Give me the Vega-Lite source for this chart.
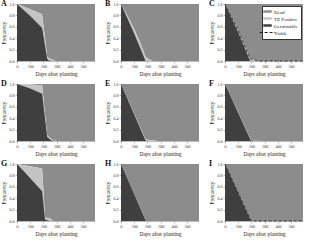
{
  "$schema": "https://vega.github.io/schema/vega-lite/v6.json",
  "background": "white",
  "padding": {"left": 1, "top": 0, "right": 1, "bottom": 1},
  "columns": 3,
  "spacing": {"row": 3, "column": 10},
  "resolve": {"scale": {"color": "independent"}, "legend": {"color": "independent"}},
  "data": {"values": [
    {"p":"A","d":0,"Germinable":1,"Viable":1},
    {"p":"A","d":100,"Germinable":0.79,"Viable":0.91},
    {"p":"A","d":190,"Germinable":0.58,"Viable":0.82},
    {"p":"A","d":228,"Germinable":0.04,"Viable":0.08},
    {"p":"A","d":240,"Germinable":0.01,"Viable":0.05},
    {"p":"A","d":270,"Germinable":0,"Viable":0.02},
    {"p":"A","d":290,"Germinable":0,"Viable":0},
    {"p":"A","d":590,"Germinable":0,"Viable":0},
    {"p":"B","d":0,"Germinable":1,"Viable":1},
    {"p":"B","d":50,"Germinable":0.74,"Viable":0.79},
    {"p":"B","d":100,"Germinable":0.48,"Viable":0.56},
    {"p":"B","d":150,"Germinable":0.2,"Viable":0.3},
    {"p":"B","d":185,"Germinable":0,"Viable":0.08},
    {"p":"B","d":210,"Germinable":0,"Viable":0.03},
    {"p":"B","d":240,"Germinable":0,"Viable":0},
    {"p":"B","d":590,"Germinable":0,"Viable":0},
    {"p":"C","d":0,"Germinable":1,"Viable":1},
    {"p":"C","d":100,"Germinable":0.5,"Viable":0.53},
    {"p":"C","d":190,"Germinable":0,"Viable":0.04},
    {"p":"C","d":220,"Germinable":0,"Viable":0.02},
    {"p":"C","d":255,"Germinable":0,"Viable":0},
    {"p":"C","d":590,"Germinable":0,"Viable":0},
    {"p":"D","d":0,"Germinable":1,"Viable":1},
    {"p":"D","d":100,"Germinable":0.92,"Viable":0.99},
    {"p":"D","d":190,"Germinable":0.83,"Viable":0.98},
    {"p":"D","d":228,"Germinable":0.07,"Viable":0.1},
    {"p":"D","d":260,"Germinable":0.01,"Viable":0.03},
    {"p":"D","d":300,"Germinable":0,"Viable":0},
    {"p":"D","d":590,"Germinable":0,"Viable":0},
    {"p":"E","d":0,"Germinable":1,"Viable":1},
    {"p":"E","d":185,"Germinable":0.01,"Viable":0.03},
    {"p":"E","d":200,"Germinable":0,"Viable":0.02},
    {"p":"E","d":280,"Germinable":0,"Viable":0},
    {"p":"E","d":590,"Germinable":0,"Viable":0},
    {"p":"F","d":0,"Germinable":1,"Viable":1},
    {"p":"F","d":195,"Germinable":0.01,"Viable":0.02},
    {"p":"F","d":260,"Germinable":0,"Viable":0},
    {"p":"F","d":590,"Germinable":0,"Viable":0},
    {"p":"G","d":0,"Germinable":1,"Viable":1},
    {"p":"G","d":100,"Germinable":0.75,"Viable":0.96},
    {"p":"G","d":190,"Germinable":0.52,"Viable":0.92},
    {"p":"G","d":212,"Germinable":0.02,"Viable":0.06},
    {"p":"G","d":250,"Germinable":0,"Viable":0.05},
    {"p":"G","d":270,"Germinable":0,"Viable":0},
    {"p":"G","d":590,"Germinable":0,"Viable":0},
    {"p":"H","d":0,"Germinable":1,"Viable":1},
    {"p":"H","d":188,"Germinable":0,"Viable":0},
    {"p":"H","d":590,"Germinable":0,"Viable":0},
    {"p":"I","d":0,"Germinable":1,"Viable":1},
    {"p":"I","d":195,"Germinable":0.01,"Viable":0.01},
    {"p":"I","d":220,"Germinable":0,"Viable":0},
    {"p":"I","d":590,"Germinable":0,"Viable":0}
  ]},
  "concat": [
    {"title": {"text": "A"}, "transform": [{"filter": "datum.p === 'A'"}],
     "encoding": {"x": {"field": "d", "type": "quantitative", "scale": {"domain": [0, 590], "nice": false}, "axis": {"values": [0,100,200,300,400,500], "labelOverlap": false, "title": "Days after planting"}}},
     "layer": [
      {"mark": "area", "encoding": {"y": {"field": "Viable", "type": "quantitative", "scale": {"domain": [0, 1]}, "axis": {"values": [0,0.2,0.4,0.6,0.8,1], "format": ".1f", "labelOverlap": false, "title": "Frequency"}}, "y2": {"datum": 1}, "color": {"datum": "Dead", "scale": {"domain": ["Dead", "TZ Positive", "Germinable", "Viable"], "range": ["#8c8c8c", "#c4c4c4", "#3f3f3f", "#222222"]}, "legend": null}}},
      {"mark": "area", "encoding": {"y": {"field": "Viable", "type": "quantitative", "scale": {"domain": [0, 1]}, "axis": {"values": [0,0.2,0.4,0.6,0.8,1], "format": ".1f", "labelOverlap": false, "title": "Frequency"}}, "color": {"datum": "TZ Positive"}}},
      {"mark": "area", "encoding": {"y": {"field": "Germinable", "type": "quantitative", "scale": {"domain": [0, 1]}, "axis": {"values": [0,0.2,0.4,0.6,0.8,1], "format": ".1f", "labelOverlap": false, "title": "Frequency"}}, "color": {"datum": "Germinable"}}}
    ]},
    {"title": {"text": "B"}, "transform": [{"filter": "datum.p === 'B'"}],
     "encoding": {"x": {"field": "d", "type": "quantitative", "scale": {"domain": [0, 590], "nice": false}, "axis": {"values": [0,100,200,300,400,500], "labelOverlap": false, "title": "Days after planting"}}},
     "layer": [
      {"mark": "area", "encoding": {"y": {"field": "Viable", "type": "quantitative", "scale": {"domain": [0, 1]}, "axis": {"values": [0,0.2,0.4,0.6,0.8,1], "format": ".1f", "labelOverlap": false, "title": "Frequency"}}, "y2": {"datum": 1}, "color": {"datum": "Dead", "scale": {"domain": ["Dead", "TZ Positive", "Germinable", "Viable"], "range": ["#8c8c8c", "#c4c4c4", "#3f3f3f", "#222222"]}, "legend": null}}},
      {"mark": "area", "encoding": {"y": {"field": "Viable", "type": "quantitative", "scale": {"domain": [0, 1]}, "axis": {"values": [0,0.2,0.4,0.6,0.8,1], "format": ".1f", "labelOverlap": false, "title": "Frequency"}}, "color": {"datum": "TZ Positive"}}},
      {"mark": "area", "encoding": {"y": {"field": "Germinable", "type": "quantitative", "scale": {"domain": [0, 1]}, "axis": {"values": [0,0.2,0.4,0.6,0.8,1], "format": ".1f", "labelOverlap": false, "title": "Frequency"}}, "color": {"datum": "Germinable"}}}
    ]},
    {"title": {"text": "C"}, "transform": [{"filter": "datum.p === 'C'"}],
     "encoding": {"x": {"field": "d", "type": "quantitative", "scale": {"domain": [0, 590], "nice": false}, "axis": {"values": [0,100,200,300,400,500], "labelOverlap": false, "title": "Days after planting"}}},
     "layer": [
      {"mark": "area", "encoding": {"y": {"field": "Viable", "type": "quantitative", "scale": {"domain": [0, 1]}, "axis": {"values": [0,0.2,0.4,0.6,0.8,1], "format": ".1f", "labelOverlap": false, "title": "Frequency"}}, "y2": {"datum": 1}, "color": {"datum": "Dead", "scale": {"domain": ["Dead", "TZ Positive", "Germinable", "Viable"], "range": ["#8c8c8c", "#c4c4c4", "#3f3f3f", "#222222"]},
        "legend": {"orient": "top-right", "offset": 2, "title": null, "values": ["Dead", "TZ Positive", "Germinable", "Viable"], "fillColor": "white", "strokeColor": "#333333", "padding": 3, "rowPadding": 1, "labelFont": "Liberation Serif", "labelFontSize": 5, "labelColor": "#222222", "labelOffset": 4, "symbolSize": 250,
          "encode": {"symbols": {"update": {
            "shape": {"signal": "datum.value === 'Viable' ? 'stroke' : 'M-0.5,-0.13H0.5V0.13H-0.5Z'"},
            "size": {"value": 250},
            "fill": {"signal": "datum.value === 'Dead' ? '#8c8c8c' : datum.value === 'TZ Positive' ? '#c4c4c4' : datum.value === 'Germinable' ? '#3f3f3f' : 'transparent'"},
            "stroke": {"signal": "datum.value === 'Viable' ? '#222222' : '#555555'"},
            "strokeWidth": {"signal": "datum.value === 'Viable' ? 1 : 0.5"},
            "strokeDash": {"signal": "datum.value === 'Viable' ? [3, 2] : [1, 0]"},
            "opacity": {"value": 1}}}}}}}},
      {"mark": "area", "encoding": {"y": {"field": "Viable", "type": "quantitative", "scale": {"domain": [0, 1]}, "axis": {"values": [0,0.2,0.4,0.6,0.8,1], "format": ".1f", "labelOverlap": false, "title": "Frequency"}}, "color": {"datum": "TZ Positive"}}},
      {"mark": "area", "encoding": {"y": {"field": "Germinable", "type": "quantitative", "scale": {"domain": [0, 1]}, "axis": {"values": [0,0.2,0.4,0.6,0.8,1], "format": ".1f", "labelOverlap": false, "title": "Frequency"}}, "color": {"datum": "Germinable"}}},
      {"mark": {"type": "line", "strokeDash": [3, 2], "strokeWidth": 0.8}, "encoding": {"y": {"field": "Viable", "type": "quantitative", "scale": {"domain": [0, 1]}, "axis": {"values": [0,0.2,0.4,0.6,0.8,1], "format": ".1f", "labelOverlap": false, "title": "Frequency"}}, "color": {"datum": "Viable"}}}
    ]},
    {"title": {"text": "D"}, "transform": [{"filter": "datum.p === 'D'"}],
     "encoding": {"x": {"field": "d", "type": "quantitative", "scale": {"domain": [0, 590], "nice": false}, "axis": {"values": [0,100,200,300,400,500], "labelOverlap": false, "title": "Days after planting"}}},
     "layer": [
      {"mark": "area", "encoding": {"y": {"field": "Viable", "type": "quantitative", "scale": {"domain": [0, 1]}, "axis": {"values": [0,0.2,0.4,0.6,0.8,1], "format": ".1f", "labelOverlap": false, "title": "Frequency"}}, "y2": {"datum": 1}, "color": {"datum": "Dead", "scale": {"domain": ["Dead", "TZ Positive", "Germinable", "Viable"], "range": ["#8c8c8c", "#c4c4c4", "#3f3f3f", "#222222"]}, "legend": null}}},
      {"mark": "area", "encoding": {"y": {"field": "Viable", "type": "quantitative", "scale": {"domain": [0, 1]}, "axis": {"values": [0,0.2,0.4,0.6,0.8,1], "format": ".1f", "labelOverlap": false, "title": "Frequency"}}, "color": {"datum": "TZ Positive"}}},
      {"mark": "area", "encoding": {"y": {"field": "Germinable", "type": "quantitative", "scale": {"domain": [0, 1]}, "axis": {"values": [0,0.2,0.4,0.6,0.8,1], "format": ".1f", "labelOverlap": false, "title": "Frequency"}}, "color": {"datum": "Germinable"}}}
    ]},
    {"title": {"text": "E"}, "transform": [{"filter": "datum.p === 'E'"}],
     "encoding": {"x": {"field": "d", "type": "quantitative", "scale": {"domain": [0, 590], "nice": false}, "axis": {"values": [0,100,200,300,400,500], "labelOverlap": false, "title": "Days after planting"}}},
     "layer": [
      {"mark": "area", "encoding": {"y": {"field": "Viable", "type": "quantitative", "scale": {"domain": [0, 1]}, "axis": {"values": [0,0.2,0.4,0.6,0.8,1], "format": ".1f", "labelOverlap": false, "title": "Frequency"}}, "y2": {"datum": 1}, "color": {"datum": "Dead", "scale": {"domain": ["Dead", "TZ Positive", "Germinable", "Viable"], "range": ["#8c8c8c", "#c4c4c4", "#3f3f3f", "#222222"]}, "legend": null}}},
      {"mark": "area", "encoding": {"y": {"field": "Viable", "type": "quantitative", "scale": {"domain": [0, 1]}, "axis": {"values": [0,0.2,0.4,0.6,0.8,1], "format": ".1f", "labelOverlap": false, "title": "Frequency"}}, "color": {"datum": "TZ Positive"}}},
      {"mark": "area", "encoding": {"y": {"field": "Germinable", "type": "quantitative", "scale": {"domain": [0, 1]}, "axis": {"values": [0,0.2,0.4,0.6,0.8,1], "format": ".1f", "labelOverlap": false, "title": "Frequency"}}, "color": {"datum": "Germinable"}}}
    ]},
    {"title": {"text": "F"}, "transform": [{"filter": "datum.p === 'F'"}],
     "encoding": {"x": {"field": "d", "type": "quantitative", "scale": {"domain": [0, 590], "nice": false}, "axis": {"values": [0,100,200,300,400,500], "labelOverlap": false, "title": "Days after planting"}}},
     "layer": [
      {"mark": "area", "encoding": {"y": {"field": "Viable", "type": "quantitative", "scale": {"domain": [0, 1]}, "axis": {"values": [0,0.2,0.4,0.6,0.8,1], "format": ".1f", "labelOverlap": false, "title": "Frequency"}}, "y2": {"datum": 1}, "color": {"datum": "Dead", "scale": {"domain": ["Dead", "TZ Positive", "Germinable", "Viable"], "range": ["#8c8c8c", "#c4c4c4", "#3f3f3f", "#222222"]}, "legend": null}}},
      {"mark": "area", "encoding": {"y": {"field": "Viable", "type": "quantitative", "scale": {"domain": [0, 1]}, "axis": {"values": [0,0.2,0.4,0.6,0.8,1], "format": ".1f", "labelOverlap": false, "title": "Frequency"}}, "color": {"datum": "TZ Positive"}}},
      {"mark": "area", "encoding": {"y": {"field": "Germinable", "type": "quantitative", "scale": {"domain": [0, 1]}, "axis": {"values": [0,0.2,0.4,0.6,0.8,1], "format": ".1f", "labelOverlap": false, "title": "Frequency"}}, "color": {"datum": "Germinable"}}}
    ]},
    {"title": {"text": "G"}, "transform": [{"filter": "datum.p === 'G'"}],
     "encoding": {"x": {"field": "d", "type": "quantitative", "scale": {"domain": [0, 590], "nice": false}, "axis": {"values": [0,100,200,300,400,500], "labelOverlap": false, "title": "Days after planting"}}},
     "layer": [
      {"mark": "area", "encoding": {"y": {"field": "Viable", "type": "quantitative", "scale": {"domain": [0, 1]}, "axis": {"values": [0,0.2,0.4,0.6,0.8,1], "format": ".1f", "labelOverlap": false, "title": "Frequency"}}, "y2": {"datum": 1}, "color": {"datum": "Dead", "scale": {"domain": ["Dead", "TZ Positive", "Germinable", "Viable"], "range": ["#8c8c8c", "#c4c4c4", "#3f3f3f", "#222222"]}, "legend": null}}},
      {"mark": "area", "encoding": {"y": {"field": "Viable", "type": "quantitative", "scale": {"domain": [0, 1]}, "axis": {"values": [0,0.2,0.4,0.6,0.8,1], "format": ".1f", "labelOverlap": false, "title": "Frequency"}}, "color": {"datum": "TZ Positive"}}},
      {"mark": "area", "encoding": {"y": {"field": "Germinable", "type": "quantitative", "scale": {"domain": [0, 1]}, "axis": {"values": [0,0.2,0.4,0.6,0.8,1], "format": ".1f", "labelOverlap": false, "title": "Frequency"}}, "color": {"datum": "Germinable"}}}
    ]},
    {"title": {"text": "H"}, "transform": [{"filter": "datum.p === 'H'"}],
     "encoding": {"x": {"field": "d", "type": "quantitative", "scale": {"domain": [0, 590], "nice": false}, "axis": {"values": [0,100,200,300,400,500], "labelOverlap": false, "title": "Days after planting"}}},
     "layer": [
      {"mark": "area", "encoding": {"y": {"field": "Viable", "type": "quantitative", "scale": {"domain": [0, 1]}, "axis": {"values": [0,0.2,0.4,0.6,0.8,1], "format": ".1f", "labelOverlap": false, "title": "Frequency"}}, "y2": {"datum": 1}, "color": {"datum": "Dead", "scale": {"domain": ["Dead", "TZ Positive", "Germinable", "Viable"], "range": ["#8c8c8c", "#c4c4c4", "#3f3f3f", "#222222"]}, "legend": null}}},
      {"mark": "area", "encoding": {"y": {"field": "Viable", "type": "quantitative", "scale": {"domain": [0, 1]}, "axis": {"values": [0,0.2,0.4,0.6,0.8,1], "format": ".1f", "labelOverlap": false, "title": "Frequency"}}, "color": {"datum": "TZ Positive"}}},
      {"mark": "area", "encoding": {"y": {"field": "Germinable", "type": "quantitative", "scale": {"domain": [0, 1]}, "axis": {"values": [0,0.2,0.4,0.6,0.8,1], "format": ".1f", "labelOverlap": false, "title": "Frequency"}}, "color": {"datum": "Germinable"}}}
    ]},
    {"title": {"text": "I"}, "transform": [{"filter": "datum.p === 'I'"}],
     "encoding": {"x": {"field": "d", "type": "quantitative", "scale": {"domain": [0, 590], "nice": false}, "axis": {"values": [0,100,200,300,400,500], "labelOverlap": false, "title": "Days after planting"}}},
     "layer": [
      {"mark": "area", "encoding": {"y": {"field": "Viable", "type": "quantitative", "scale": {"domain": [0, 1]}, "axis": {"values": [0,0.2,0.4,0.6,0.8,1], "format": ".1f", "labelOverlap": false, "title": "Frequency"}}, "y2": {"datum": 1}, "color": {"datum": "Dead", "scale": {"domain": ["Dead", "TZ Positive", "Germinable", "Viable"], "range": ["#8c8c8c", "#c4c4c4", "#3f3f3f", "#222222"]}, "legend": null}}},
      {"mark": "area", "encoding": {"y": {"field": "Viable", "type": "quantitative", "scale": {"domain": [0, 1]}, "axis": {"values": [0,0.2,0.4,0.6,0.8,1], "format": ".1f", "labelOverlap": false, "title": "Frequency"}}, "color": {"datum": "TZ Positive"}}},
      {"mark": "area", "encoding": {"y": {"field": "Germinable", "type": "quantitative", "scale": {"domain": [0, 1]}, "axis": {"values": [0,0.2,0.4,0.6,0.8,1], "format": ".1f", "labelOverlap": false, "title": "Frequency"}}, "color": {"datum": "Germinable"}}},
      {"mark": {"type": "line", "strokeDash": [3, 2], "strokeWidth": 0.8}, "encoding": {"y": {"field": "Viable", "type": "quantitative", "scale": {"domain": [0, 1]}, "axis": {"values": [0,0.2,0.4,0.6,0.8,1], "format": ".1f", "labelOverlap": false, "title": "Frequency"}}, "color": {"datum": "Viable"}}}
    ]}
  ],
  "config": {
    "view": {"continuousWidth": 78, "continuousHeight": 57, "stroke": null},
    "font": "Liberation Serif",
    "title": {"anchor": "start", "frame": "bounds", "fontSize": 8, "fontWeight": "bold", "font": "Liberation Serif", "offset": -6, "color": "#111111"},
    "axis": {"labelFontSize": 4, "titleFontSize": 5.5, "titleFontWeight": "normal", "labelFont": "Liberation Serif", "titleFont": "Liberation Serif", "tickSize": 2, "labelPadding": 1, "titlePadding": 3, "labelFlush": false, "domainColor": "#777777", "tickColor": "#777777", "domainWidth": 0.5, "tickWidth": 0.5, "grid": false, "labelColor": "#333333", "titleColor": "#222222"}
  }
}
